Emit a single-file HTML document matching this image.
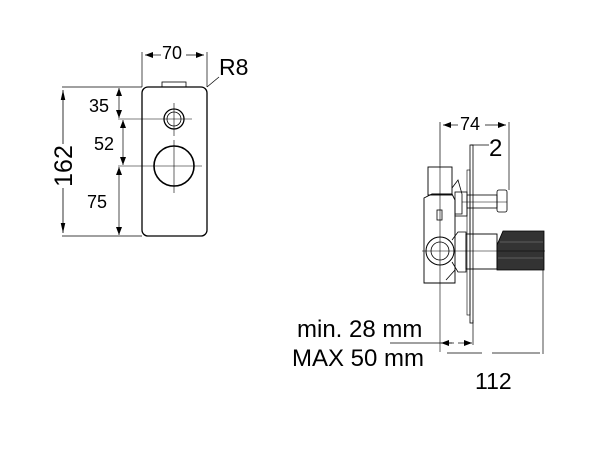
<!DOCTYPE html>
<html><head><meta charset="utf-8"><style>
html,body{margin:0;padding:0;background:#fff}
svg{display:block}
text{font-family:"Liberation Sans",sans-serif;fill:#000}
</style></head><body>
<svg width="600" height="470" viewBox="0 0 600 470" xmlns="http://www.w3.org/2000/svg">
<defs>
<marker id="a" markerWidth="8" markerHeight="6" refX="8" refY="3" orient="auto-start-reverse" markerUnits="userSpaceOnUse"><path d="M0,0 L8,3 L0,6z" fill="#000"/></marker>
<marker id="b" markerWidth="10" markerHeight="22" refX="22" refY="5" orient="auto-start-reverse" markerUnits="userSpaceOnUse" viewBox="0 0 22 10"><path d="M0,0 L22,5 L0,10z" fill="#000"/></marker>
</defs>
<g stroke="#000" fill="none" stroke-width="1">
<rect x="142" y="87" width="65" height="149" rx="6" stroke-width="1.3"/>
<rect x="162" y="82" width="24" height="5" stroke-width="0.8"/>
<line x1="142" y1="52" x2="142" y2="87" stroke-width="0.7"/>
<line x1="207" y1="52" x2="207" y2="87" stroke-width="0.7"/>
<line x1="145" y1="55" x2="161" y2="55" marker-start="url(#a)" stroke-width="0.7"/>
<line x1="186" y1="55" x2="204" y2="55" marker-end="url(#a)" stroke-width="0.7"/>
<line x1="207" y1="87" x2="219" y2="77" stroke-width="0.7"/>
<circle cx="174" cy="119" r="10" stroke-width="1.3"/>
<circle cx="174" cy="119" r="7" stroke-width="0.8"/>
<circle cx="174" cy="166" r="20" stroke-width="1.6"/>
<line x1="118" y1="119" x2="192" y2="119" stroke-width="0.6"/>
<line x1="174" y1="103" x2="174" y2="136" stroke-width="0.6"/>
<line x1="118" y1="166" x2="202" y2="166" stroke-width="0.6"/>
<line x1="174" y1="140" x2="174" y2="193" stroke-width="0.6"/>
<line x1="62" y1="87" x2="142" y2="87" stroke-width="0.7"/>
<line x1="62" y1="236" x2="142" y2="236" stroke-width="0.7"/>
<line x1="63" y1="90" x2="63" y2="144" marker-start="url(#b)" stroke-width="0.8"/>
<line x1="63" y1="188" x2="63" y2="233" marker-end="url(#b)" stroke-width="0.8"/>
<line x1="119" y1="88" x2="119" y2="118" marker-start="url(#a)" marker-end="url(#a)" stroke-width="0.7"/>
<line x1="123" y1="120" x2="123" y2="165" marker-start="url(#a)" marker-end="url(#a)" stroke-width="0.7"/>
<line x1="119" y1="167" x2="119" y2="235" marker-start="url(#a)" marker-end="url(#a)" stroke-width="0.7"/>

<line x1="440" y1="122" x2="440" y2="165" stroke-width="0.7"/>
<line x1="509" y1="122" x2="509" y2="190" stroke-width="0.7"/>
<line x1="443" y1="125" x2="458" y2="125" marker-start="url(#a)" stroke-width="0.7"/>
<line x1="485" y1="125" x2="506" y2="125" marker-end="url(#a)" stroke-width="0.7"/>
<line x1="471" y1="145" x2="489" y2="145" stroke-width="0.7"/>
<rect x="470" y="145" width="3" height="178" stroke-width="0.8"/>
<rect x="467" y="170" width="3" height="145" stroke-width="0.6"/>
<rect x="428" y="167" width="24" height="28" stroke-width="0.9"/>
<path d="M424,198 L432,194 L452,194 L455,200 L455,283 L424,283 Z" stroke-width="0.9"/>
<path d="M452,188 L458,180 L462,194 L462,214 L455,214" stroke-width="0.8"/>
<rect x="455" y="192" width="12" height="24" stroke-width="0.8"/>
<rect x="437" y="210" width="5" height="10" stroke-width="0.8"/>
<rect x="467" y="195" width="30" height="13" stroke-width="0.8"/>
<rect x="497" y="190" width="10" height="22" rx="2" stroke-width="0.8"/>
<line x1="462" y1="202" x2="507" y2="202" stroke-width="0.5"/>
<circle cx="440" cy="251" r="14" stroke-width="1"/>
<circle cx="440" cy="251" r="9" stroke-width="0.8"/>
<path d="M452,240 L458,232 L466,232 L466,272 L458,272 L452,262" stroke-width="0.8"/>
<path d="M446,280 L455,270" stroke-width="0.8"/>
<rect x="466" y="234" width="31" height="35" stroke-width="0.9"/>
<path d="M503,231 L544,231 L544,270 L497,270 L497,245 Z" fill="#333" stroke-width="0.8"/>
<g stroke="#888" stroke-width="0.6"><line x1="500" y1="242" x2="543" y2="242"/><line x1="498" y1="258" x2="543" y2="258"/></g>
<line x1="422" y1="251" x2="545" y2="251" stroke-width="0.6"/>
<line x1="440" y1="165" x2="440" y2="352" stroke-width="0.6"/>
<line x1="543" y1="270" x2="543" y2="354" stroke-width="0.7"/>
<line x1="473" y1="320" x2="473" y2="345" stroke-width="0.7"/>
<line x1="390" y1="343" x2="452" y2="343" stroke-width="0.7"/>
<line x1="441" y1="343" x2="454" y2="343" marker-start="url(#a)" stroke-width="0.7"/>
<line x1="458" y1="343" x2="472" y2="343" marker-end="url(#a)" stroke-width="0.7"/>
<line x1="447" y1="353" x2="482" y2="353" stroke-width="0.7"/>
<line x1="492" y1="353" x2="540" y2="353" stroke-width="0.7"/>
</g>
<text x="162" y="59" font-size="18">70</text>
<text x="219" y="75" font-size="23">R8</text>
<text x="89" y="112" font-size="18">35</text>
<text x="94" y="150" font-size="18">52</text>
<text x="87" y="208" font-size="18">75</text>
<text transform="translate(72,166) rotate(-90)" font-size="25" text-anchor="middle">162</text>
<text x="460" y="130" font-size="18">74</text>
<text x="489" y="156" font-size="24">2</text>
<text x="297" y="337" font-size="24">min. 28 mm</text>
<text x="292" y="366" font-size="24">MAX 50 mm</text>
<text x="475" y="389" font-size="23">112</text>
</svg>
</body></html>
